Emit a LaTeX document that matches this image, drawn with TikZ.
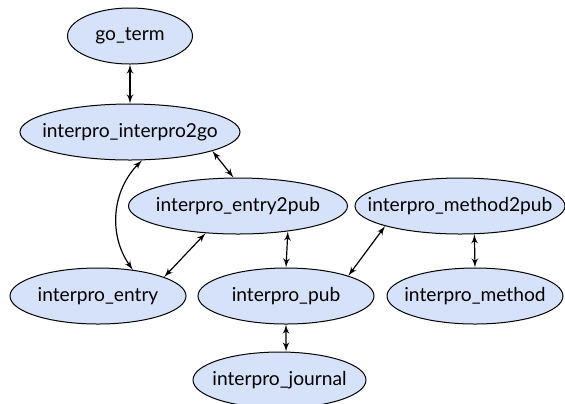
\documentclass[tikz,border=0pt]{standalone}
\usepackage{fontspec}
\setmainfont{Lato}
\usetikzlibrary{shapes,arrows,positioning}

\definecolor{tableblue}{RGB}{214,226,250}
% keep the label from widening the ellipse
\newcommand{\tname}[1]{\makebox[0pt]{#1}}

\begin{document}
\begin{tikzpicture}[
    table/.style={ellipse, draw=black, fill=tableblue, line width=0.5pt, inner sep=0pt, minimum height=28pt, font=\fontsize{9.6}{11}\selectfont},
    link/.style={draw, <->, >=latex', line width=0.6pt}
]
\useasboundingbox (-65pt,18pt) rectangle (217.5pt,-183.5pt);

% Tables
\node[table, minimum width=62.5pt] (goterm) {\tname{go\_term}};
\node[table, minimum width=110pt, below of=goterm, node distance=48pt] (interpro2go) {\tname{interpro\_interpro2go}};
\node[table, minimum width=109.5pt, below of=interpro2go, node distance=37pt, xshift=54pt] (entry2pub) {\tname{interpro\_entry2pub}};
\node[table, minimum width=105pt, right of=entry2pub, node distance=111pt] (method2pub) {\tname{interpro\_method2pub}};
\node[table, minimum width=88pt, below of=entry2pub, node distance=45pt, xshift=-70pt] (entry) {\tname{interpro\_entry}};
\node[table, minimum width=88pt, below of=entry2pub, node distance=45pt, xshift=24pt] (pub) {\tname{interpro\_pub}};
\node[table, minimum width=88pt, below of=method2pub, node distance=45pt, xshift=7.5pt] (method) {\tname{interpro\_method}};
\node[table, minimum width=86.5pt, below of=pub, node distance=42pt, xshift=-3.25pt] (journal) {\tname{interpro\_journal}};

% Links
\draw[link] (goterm) -- (interpro2go);
\draw[link] (interpro2go.-13) -- (entry2pub.99);
\draw[link] (interpro2go.-67) to [bend right=40] (entry.37);
\draw[link] (entry2pub.220) -- (entry.16);
\draw[link] (entry2pub.-27) -- (pub.north);
\draw[link] (method2pub.195) -- (pub.18);
\draw[link] (method2pub.-63) -- (method.north);
\draw[link] (pub.south) -- (journal.77);

\end{tikzpicture}
\end{document}
